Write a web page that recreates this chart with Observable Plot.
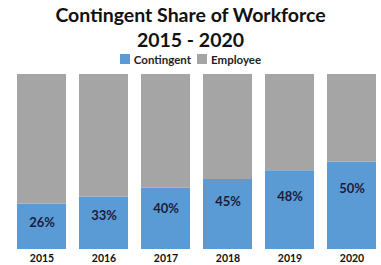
<!DOCTYPE html>
<html>
<head>
<meta charset="utf-8">
<script src="https://cdn.jsdelivr.net/npm/d3@7"></script>
<script src="https://cdn.jsdelivr.net/npm/@observablehq/plot@0.6"></script>
<style>
  html, body { margin: 0; padding: 0; background: #fff; overflow: hidden; }
  #wrap { width: 381px; font-family: Lato, "Open Sans", sans-serif; }
  .t1 { font-weight: 700; font-size: 19.5px; text-align: center; line-height: 25px; height: 25px; padding-top: 2px; color: #111; }
  .t2 { font-weight: 700; font-size: 19.5px; text-align: center; line-height: 25px; height: 25px; color: #111; }
  .legend { display: flex; justify-content: center; align-items: center; height: 14px; font-size: 11.5px; font-weight: 700; color: #222; }
  .legend .sw { width: 10px; height: 10px; display: inline-block; margin-right: 4px; }
  .legend .item { display: flex; align-items: center; margin: 0 3px; }
</style>
</head>
<body>
<div id="wrap">
  <div class="t1">Contingent Share of Workforce</div>
  <div class="t2">2015 - 2020</div>
  <div class="legend" id="legend"></div>
  <div id="chart"></div>
</div>
<script>
const years = ["2015", "2016", "2017", "2018", "2019", "2020"];
const contingent = [26, 30, 35, 40, 45, 50];        // bar heights as drawn (%)
const labels = ["26%", "33%", "40%", "45%", "48%", "50%"];  // printed labels
const labelPos = [15.5, 19.5, 23, 27, 30, 34.5];    // label height (%) as drawn
const series = ["Contingent", "Employee"];
const colors = ["#5B9BD5", "#A5A5A5"];

const rows = [];
years.forEach((y, i) => {
  rows.push({year: y, series: "Contingent", value: contingent[i]});
  rows.push({year: y, series: "Employee", value: 100 - contingent[i]});
});
const labelRows = years.map((y, i) => ({year: y, label: labels[i], pos: labelPos[i]}));

const legend = document.getElementById("legend");
series.forEach((s, i) => {
  const it = document.createElement("span");
  it.className = "item";
  it.innerHTML = `<span class="sw" style="background:${colors[i]}"></span>${s}`;
  legend.appendChild(it);
});

const chart = Plot.plot({
  width: 381,
  height: 199,
  marginTop: 8,
  marginBottom: 16,
  marginLeft: 1,
  marginRight: -11,
  style: {fontFamily: "Lato, 'Open Sans', sans-serif", background: "#fff", overflow: "hidden"},
  x: {domain: years, padding: 0.215, label: null, tickSize: 0, tickPadding: 5},
  y: {domain: [0, 100], axis: null},
  color: {domain: series, range: colors},
  marks: [
    Plot.barY(rows, Plot.stackY({x: "year", y: "value", fill: "series", order: series})),
    Plot.text(labelRows, {x: "year", y: "pos", text: "label", fill: "#1c1c3a", fontSize: 13, fontWeight: 700}),
    Plot.axisX({tickSize: 0, tickPadding: 5, fontSize: 10.5, fontWeight: 700, fill: "#111", label: null})
  ]
});
document.getElementById("chart").appendChild(chart);
</script>
</body>
</html>
